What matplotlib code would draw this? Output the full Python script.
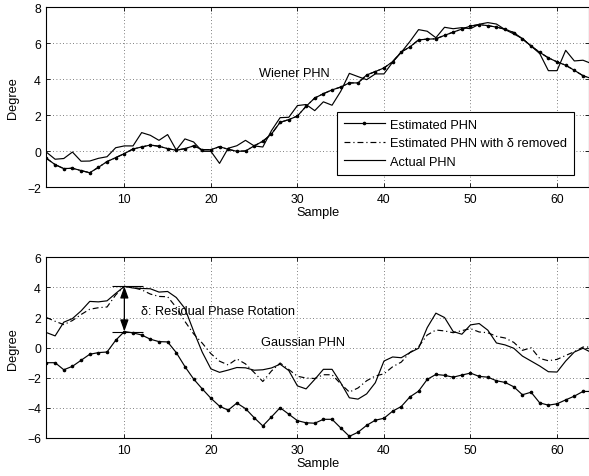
import matplotlib
matplotlib.use("Agg")
import matplotlib.pyplot as plt
import numpy as np

plt.rcParams['font.family'] = ['Liberation Sans', 'DejaVu Sans']

samples = list(range(1, 65))

wiener_est = [-0.39, -0.74, -0.96, -0.94, -1.07, -1.19, -0.89, -0.57, -0.35, -0.13,
              0.13, 0.24, 0.35, 0.28, 0.15, 0.06, 0.15, 0.30, 0.09, 0.09,
              0.26, 0.11, 0.00, 0.02, 0.30, 0.56, 0.96, 1.61, 1.76, 1.96,
              2.50, 2.96, 3.20, 3.41, 3.57, 3.80, 3.80, 4.24, 4.43, 4.63,
              4.98, 5.52, 5.80, 6.19, 6.23, 6.25, 6.44, 6.62, 6.79, 6.96,
              7.04, 6.98, 6.90, 6.78, 6.60, 6.25, 5.85, 5.50, 5.19, 4.97,
              4.78, 4.50, 4.20, 4.04]
wiener_removed = [-0.39, -0.74, -0.96, -0.94, -1.07, -1.19, -0.89, -0.57, -0.35, -0.13,
                  0.13, 0.24, 0.35, 0.28, 0.15, 0.06, 0.15, 0.30, 0.09, 0.09,
                  0.26, 0.11, 0.00, 0.02, 0.30, 0.56, 0.96, 1.61, 1.76, 1.96,
                  2.50, 2.96, 3.20, 3.41, 3.57, 3.80, 3.80, 4.24, 4.43, 4.63,
                  4.98, 5.52, 5.80, 6.19, 6.23, 6.25, 6.44, 6.62, 6.79, 6.96,
                  7.04, 6.98, 6.90, 6.78, 6.60, 6.25, 5.85, 5.50, 5.19, 4.97,
                  4.78, 4.50, 4.20, 4.04]
wiener_actual = [-0.05, -0.44, -0.40, -0.04, -0.55, -0.54, -0.39, -0.30, 0.20, 0.30,
                 0.30, 1.04, 0.89, 0.61, 0.93, 0.07, 0.69, 0.52, 0.00, 0.00,
                 -0.67, 0.17, 0.31, 0.61, 0.30, 0.24, 1.15, 1.87, 1.89, 2.54,
                 2.60, 2.26, 2.75, 2.56, 3.33, 4.33, 4.15, 3.98, 4.30, 4.30,
                 4.95, 5.50, 6.10, 6.76, 6.67, 6.31, 6.89, 6.81, 6.87, 6.81,
                 7.06, 7.15, 7.07, 6.76, 6.52, 6.26, 5.85, 5.43, 4.48, 4.48,
                 5.61, 5.02, 5.06, 4.87]

gauss_est = [-1.00, -1.00, -1.47, -1.24, -0.84, -0.44, -0.33, -0.29, 0.49, 1.07,
             0.98, 0.84, 0.56, 0.40, 0.38, -0.33, -1.26, -2.08, -2.74, -3.36,
             -3.89, -4.15, -3.68, -4.05, -4.65, -5.20, -4.60, -3.99, -4.42, -4.85,
             -4.99, -5.02, -4.76, -4.76, -5.33, -5.89, -5.62, -5.16, -4.82, -4.69,
             -4.22, -3.91, -3.27, -2.89, -2.11, -1.78, -1.84, -1.96, -1.82, -1.69,
             -1.91, -1.96, -2.20, -2.31, -2.60, -3.13, -2.96, -3.67, -3.82, -3.73,
             -3.47, -3.22, -2.91, -2.91]
gauss_removed = [2.00, 1.75, 1.53, 1.80, 2.20, 2.55, 2.65, 2.70, 3.50, 4.07,
                 3.98, 3.84, 3.56, 3.40, 3.38, 2.67, 1.74, 0.92, 0.30, -0.40,
                 -0.90, -1.15, -0.75, -1.08, -1.65, -2.25, -1.55, -1.02, -1.45, -1.90,
                 -2.02, -2.05, -1.80, -1.80, -2.40, -2.95, -2.68, -2.20, -1.88, -1.74,
                 -1.27, -0.96, -0.32, 0.06, 0.84, 1.17, 1.11, 0.99, 1.13, 1.26,
                 1.04, 0.99, 0.75, 0.64, 0.35, -0.18, -0.01, -0.72, -0.87, -0.78,
                 -0.52, -0.27, 0.04, 0.04]
gauss_actual = [1.00, 0.78, 1.69, 1.93, 2.44, 3.07, 3.04, 3.11, 3.60, 4.07,
                3.96, 3.93, 3.91, 3.69, 3.73, 3.33, 2.60, 1.10, -0.30, -1.41,
                -1.64, -1.49, -1.32, -1.34, -1.50, -1.47, -1.35, -1.10, -1.52, -2.54,
                -2.74, -2.11, -1.44, -1.44, -2.33, -3.33, -3.42, -3.07, -2.33, -0.89,
                -0.62, -0.67, -0.33, -0.04, 1.33, 2.29, 2.00, 1.07, 0.89, 1.51,
                1.60, 1.16, 0.31, 0.18, -0.04, -0.56, -0.89, -1.22, -1.60, -1.62,
                -0.89, -0.29, -0.04, -0.33]

labels = ["Estimated PHN", "Estimated PHN with \u03b4 removed", "Actual PHN"]
xticks = [10, 20, 30, 40, 50, 60]
top_yticks = [-2, 0, 2, 4, 6, 8]
bot_yticks = [-6, -4, -2, 0, 2, 4, 6]

FS = 9.2
TFS = 8.8
LW = 0.85
dashdot = (0, (5, 2.5, 1, 2.5))

fig = plt.figure(figsize=(5.89, 4.77), dpi=100)
ax1 = fig.add_axes([0.0789, 0.6052, 0.9206, 0.3774])
ax2 = fig.add_axes([0.0789, 0.0797, 0.9206, 0.3788])


def style(ax, yticks):
    ax.set_xlim(1, 63.66)
    ax.set_ylim(yticks[0], yticks[-1])
    ax.set_xticks(xticks)
    ax.set_yticks(yticks)
    ax.tick_params(direction='in', length=3, width=0.6, top=True, right=True,
                   labelsize=TFS, pad=4)
    ax.grid(True, color='#555555', linestyle=(0, (1, 3)), linewidth=0.6)
    for s in ax.spines.values():
        s.set_linewidth(0.8)
        s.set_color('k')
    ax.set_xlabel("Sample", fontsize=FS, labelpad=1)
    ax.set_ylabel("Degree", fontsize=FS, labelpad=6)


l1, = ax1.plot(samples, wiener_est, color='k', lw=LW, marker='.', markersize=3.2)
l2, = ax1.plot(samples, wiener_removed, color='k', lw=LW, linestyle=dashdot)
l3, = ax1.plot(samples, wiener_actual, color='k', lw=LW)
style(ax1, top_yticks)
ax1.text(25.6, 4.35, "Wiener PHN", fontsize=FS, ha='left', va='center')
leg = ax1.legend([l1, l2, l3], labels, loc='lower right',
                 bbox_to_anchor=(0.973, 0.07), fontsize=FS, frameon=True,
                 fancybox=False, edgecolor='k', framealpha=1, borderpad=0.55,
                 handlelength=3.2, handletextpad=0.4, labelspacing=0.5,
                 borderaxespad=0)
leg.get_frame().set_linewidth(0.8)

ax2.plot(samples, gauss_est, color='k', lw=LW, marker='.', markersize=3.2)
ax2.plot(samples, gauss_removed, color='k', lw=LW, linestyle=dashdot)
ax2.plot(samples, gauss_actual, color='k', lw=LW)
style(ax2, bot_yticks)

i = samples.index(10)
y_lo, y_hi = gauss_est[i], gauss_actual[i]
ax2.hlines([y_lo, y_hi], samples[i] - 1.4, samples[i] + 2.1, color='k', lw=0.8)
ax2.annotate('', xy=(samples[i], y_lo), xytext=(samples[i], y_hi),
             arrowprops=dict(arrowstyle='<|-|>,head_length=0.7,head_width=0.25',
                             color='k', lw=0.9, shrinkA=0, shrinkB=0,
                             mutation_scale=10))
ax2.text(11.9, 2.46, "\u03b4: Residual Phase Rotation", fontsize=FS,
         ha='left', va='center')
ax2.text(25.8, 0.36, "Gaussian PHN", fontsize=FS, ha='left', va='center')

fig.savefig("out.png", dpi=100)
